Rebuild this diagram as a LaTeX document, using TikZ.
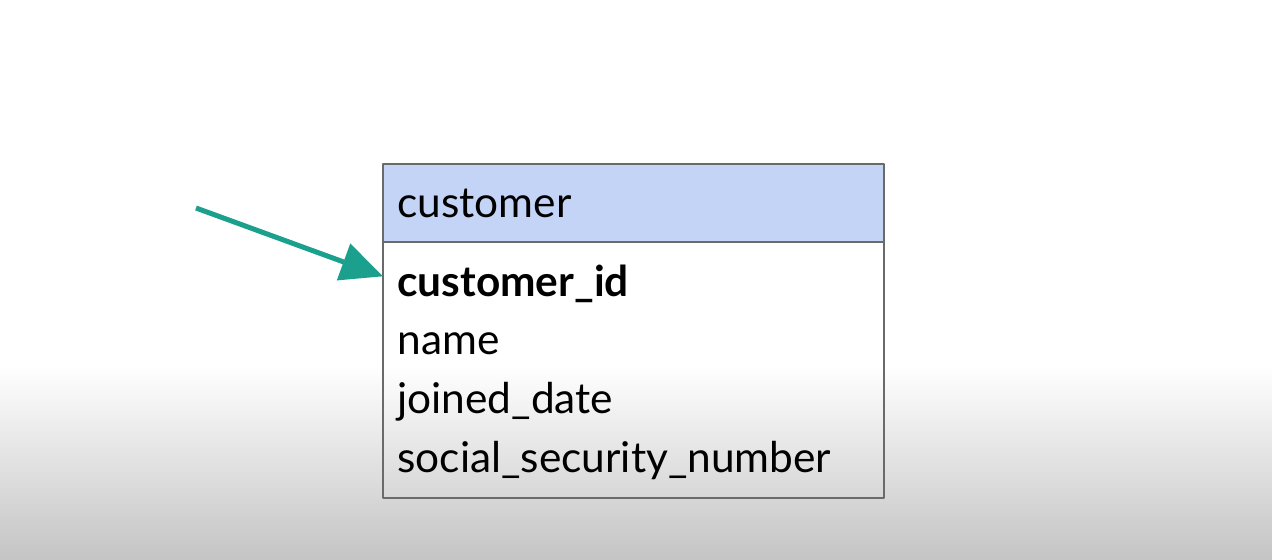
\documentclass[tikz,border=0pt]{standalone}
\usepackage{fontspec}
\setmainfont{Lato}
\usetikzlibrary{arrows.meta,positioning}
\definecolor{hdrblue}{HTML}{C4D4F6}
\definecolor{tealarrow}{HTML}{1AA08C}
\definecolor{boxgray}{HTML}{6A6A6A}
\definecolor{floorgray}{HTML}{C4C4C4}
\begin{document}
\begin{tikzpicture}[x=0.5pt, y=-0.5pt, font=\fontsize{21.2}{25}\selectfont, line join=round, >={Triangle[length=21pt,width=19pt]}]
	\tikzset{field/.style={anchor=base west, inner xsep=7pt, inner ysep=0pt}}
	% Nền
	\fill[white] (0,0) rectangle (1272,366);
	\shade[top color=white, bottom color=floorgray] (0,365) rectangle (1272,560);
	\useasboundingbox (0,0) rectangle (1272,560);
	% Bảng
	\coordinate (NW) at (383,164);
	\coordinate (HS) at (884,242);
	\coordinate (SE) at (884,498);
	\draw[boxgray, fill=hdrblue, line width=0.8pt] (NW) rectangle (HS);
	\draw[boxgray, line width=0.8pt] (NW |- HS) rectangle (SE);
	\node[field] (customer) at (383,218) {customer};
	\node[field] (id) at (383,297) {\bfseries customer\_id};
	\node[field] (name) at (383,355) {name};
	\node[field] (joined) at (383,414) {joined\_date};
	\node[field] (ssn) at (383,472) {social\_security\_number};
	% Mũi tên
	\coordinate (tail) at (196,208);
	\draw[->, tealarrow, line width=2.5pt] (tail) -- ([yshift=4pt]id.west);
\end{tikzpicture}
\end{document}
